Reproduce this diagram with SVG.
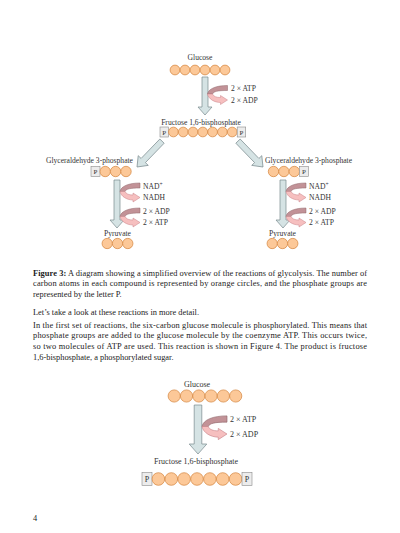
<svg xmlns="http://www.w3.org/2000/svg" xmlns:xlink="http://www.w3.org/1999/xlink" width="400" height="533" viewBox="0 0 400 533">
<style>
.t{font-family:"Liberation Serif","Times New Roman",serif;font-size:7.6px;fill:#333}
.tb{font-family:"Liberation Serif","Times New Roman",serif;font-size:8px;fill:#333}
.body{font-family:"Liberation Serif","Times New Roman",serif;font-size:8.4px;fill:#222}
.c{fill:#fcc898;stroke:#d4843c;stroke-width:0.7}
.pb{fill:#ececec;stroke:#8a8a8a;stroke-width:0.6}
.pt{font-family:"Liberation Serif","Times New Roman",serif;font-size:7px;fill:#333;text-anchor:middle}
.ar{fill:#d5e3e4;stroke:#7a8a8e;stroke-width:0.7}
.cu{fill:#c29297;stroke:#8f6468;stroke-width:0.5}
.cl{fill:#f6bfbf;stroke:#c98288;stroke-width:0.5}
.m{text-anchor:middle}
.sup{font-size:5.5px}
</style>
<defs>
<g id="curl">
<path class="cu" d="M20,-8.5 C9,-8.5 1,-5.5 0,0 L5,0 C6,-2.5 10,-3.5 20,-3.5 Z"/>
<path class="cl" d="M0,0 C1,5 7,8.5 13,8.5 L13,10.5 L20,6 L13,1.5 L13,3.5 C9,3.5 6,2.5 5,0 Z"/>
</g>
</defs>
<rect width="400" height="533" fill="#fff"/>

<!-- Figure 3 nodes -->
<g id="glucose-top">
<text class="t m" x="200" y="59.5">Glucose</text>
<circle class="c" cx="175" cy="70" r="4.9"/><circle class="c" cx="185" cy="70" r="4.9"/><circle class="c" cx="195" cy="70" r="4.9"/><circle class="c" cx="205" cy="70" r="4.9"/><circle class="c" cx="215" cy="70" r="4.9"/><circle class="c" cx="225" cy="70" r="4.9"/>
</g>
<g id="fructose-top">
<text class="t m" x="201" y="124.5">Fructose 1,6-bisphosphate</text>
<rect class="pb" x="160" y="127" width="8.5" height="10"/><text class="pt" x="164.2" y="134.5">P</text>
<circle class="c" cx="173.4" cy="132" r="4.85"/><circle class="c" cx="183.2" cy="132" r="4.85"/><circle class="c" cx="193" cy="132" r="4.85"/><circle class="c" cx="202.8" cy="132" r="4.85"/><circle class="c" cx="212.6" cy="132" r="4.85"/><circle class="c" cx="222.4" cy="132" r="4.85"/><circle class="c" cx="232.2" cy="132" r="4.85"/>
<rect class="pb" x="237.2" y="127" width="8.5" height="10"/><text class="pt" x="241.4" y="134.5">P</text>
</g>
<g id="g3p-left">
<text class="t" x="133" y="162.5" text-anchor="end">Glyceraldehyde 3-phosphate</text>
<rect class="pb" x="91" y="166.5" width="9" height="10"/><text class="pt" x="95.5" y="174">P</text>
<circle class="c" cx="105.2" cy="171.5" r="5.2"/><circle class="c" cx="115.6" cy="171.5" r="5.2"/><circle class="c" cx="126" cy="171.5" r="5.2"/>
</g>
<g id="g3p-right">
<text class="t" x="265" y="162.5">Glyceraldehyde 3-phosphate</text>
<circle class="c" cx="273.5" cy="171.5" r="5.2"/><circle class="c" cx="283.9" cy="171.5" r="5.2"/><circle class="c" cx="294.3" cy="171.5" r="5.2"/>
<rect class="pb" x="299.5" y="166.5" width="9" height="10"/><text class="pt" x="304" y="174">P</text>
</g>
<g id="pyruvate-left">
<text class="t m" x="117.5" y="235.5">Pyruvate</text>
<circle class="c" cx="107.2" cy="243.5" r="5.15"/><circle class="c" cx="117.5" cy="243.5" r="5.15"/><circle class="c" cx="127.8" cy="243.5" r="5.15"/>
</g>
<g id="pyruvate-right">
<text class="t m" x="282.5" y="235.5">Pyruvate</text>
<circle class="c" cx="272.2" cy="243.5" r="5.15"/><circle class="c" cx="282.5" cy="243.5" r="5.15"/><circle class="c" cx="292.8" cy="243.5" r="5.15"/>
</g>

<!-- Figure 4 nodes -->
<g id="glucose-bottom">
<text class="tb m" x="197" y="387">Glucose</text>
<circle class="c" cx="174.2" cy="396" r="6.1"/><circle class="c" cx="186.5" cy="396" r="6.1"/><circle class="c" cx="198.8" cy="396" r="6.1"/><circle class="c" cx="211.1" cy="396" r="6.1"/><circle class="c" cx="223.4" cy="396" r="6.1"/><circle class="c" cx="235.7" cy="396" r="6.1"/>
</g>
<g id="fructose-bottom">
<text class="tb m" x="196" y="464">Fructose 1,6-bisphosphate</text>
<rect class="pb" x="142" y="472.5" width="10" height="13"/><text class="pt" x="147" y="481.5" style="font-size:8px">P</text>
<circle class="c" cx="158.4" cy="479" r="6.3"/><circle class="c" cx="171.3" cy="479" r="6.3"/><circle class="c" cx="184.1" cy="479" r="6.3"/><circle class="c" cx="197" cy="479" r="6.3"/><circle class="c" cx="209.9" cy="479" r="6.3"/><circle class="c" cx="222.7" cy="479" r="6.3"/><circle class="c" cx="235.6" cy="479" r="6.3"/>
<rect class="pb" x="242" y="472.5" width="10" height="13"/><text class="pt" x="247" y="481.5" style="font-size:8px">P</text>
</g>

<!-- connectors -->
<g id="connectors">
<polygon class="ar" transform="translate(205,115)" points="-3,-38 3,-38 3,-8 7,-8 0,0 -7,-8 -3,-8"/>
<polygon class="ar" transform="translate(137,167) rotate(44)" points="-3,-36 3,-36 3,-9 7,-9 0,0 -7,-9 -3,-9"/>
<polygon class="ar" transform="translate(263,167) rotate(-44)" points="-3,-36 3,-36 3,-9 7,-9 0,0 -7,-9 -3,-9"/>
<polygon class="ar" transform="translate(117,228)" points="-3,-48 3,-48 3,-8 7,-8 0,0 -7,-8 -3,-8"/>
<polygon class="ar" transform="translate(283,228)" points="-3,-48 3,-48 3,-8 7,-8 0,0 -7,-8 -3,-8"/>
<polygon class="ar" transform="translate(198,454)" points="-3.8,-49 3.8,-49 3.8,-10 8.8,-10 0,0 -8.8,-10 -3.8,-10"/>
<use xlink:href="#curl" transform="translate(207.5,94)"/>
<use xlink:href="#curl" transform="translate(120,191.5)"/>
<use xlink:href="#curl" transform="translate(120,216.5)"/>
<use xlink:href="#curl" transform="translate(286,191.5)"/>
<use xlink:href="#curl" transform="translate(286,216.5)"/>
<use xlink:href="#curl" transform="translate(202,426.5) scale(1.25)"/>
</g>
<g id="connector-labels">
<text class="t" x="231" y="90.5">2 × ATP</text>
<text class="t" x="231" y="102.5">2 × ADP</text>
<text class="t" x="143" y="188.5">NAD<tspan class="sup" dy="-2.8">+</tspan></text>
<text class="t" x="143" y="200">NADH</text>
<text class="t" x="143" y="213.5">2 × ADP</text>
<text class="t" x="143" y="224.5">2 × ATP</text>
<text class="t" x="309" y="188.5">NAD<tspan class="sup" dy="-2.8">+</tspan></text>
<text class="t" x="309" y="200">NADH</text>
<text class="t" x="309" y="213.5">2 × ADP</text>
<text class="t" x="309" y="224.5">2 × ATP</text>
<text class="tb" x="230" y="422">2 × ATP</text>
<text class="tb" x="230" y="437">2 × ADP</text>
</g>

<g id="caption">
<text class="body" x="33" y="275.5" textLength="334" lengthAdjust="spacing"><tspan font-weight="bold">Figure 3:</tspan> A diagram showing a simplified overview of the reactions of glycolysis. The number of</text>
<text class="body" x="33" y="286" textLength="334" lengthAdjust="spacing">carbon atoms in each compound is represented by orange circles, and the phosphate groups are</text>
<text class="body" x="33" y="296.5">represented by the letter P.</text>
</g>
<g id="paragraph">
<text class="body" x="33" y="314.5">Let’s take a look at these reactions in more detail.</text>
<text class="body" x="33" y="327.5" textLength="334" lengthAdjust="spacing">In the first set of reactions, the six-carbon glucose molecule is phosphorylated. This means that</text>
<text class="body" x="33" y="338.3" textLength="334" lengthAdjust="spacing">phosphate groups are added to the glucose molecule by the coenzyme ATP. This occurs twice,</text>
<text class="body" x="33" y="349.1" textLength="334" lengthAdjust="spacing">so two molecules of ATP are used. This reaction is shown in Figure 4. The product is fructose</text>
<text class="body" x="33" y="359.9">1,6-bisphosphate, a phosphorylated sugar.</text>
</g>
<text class="body" x="33" y="521">4</text>
</svg>
